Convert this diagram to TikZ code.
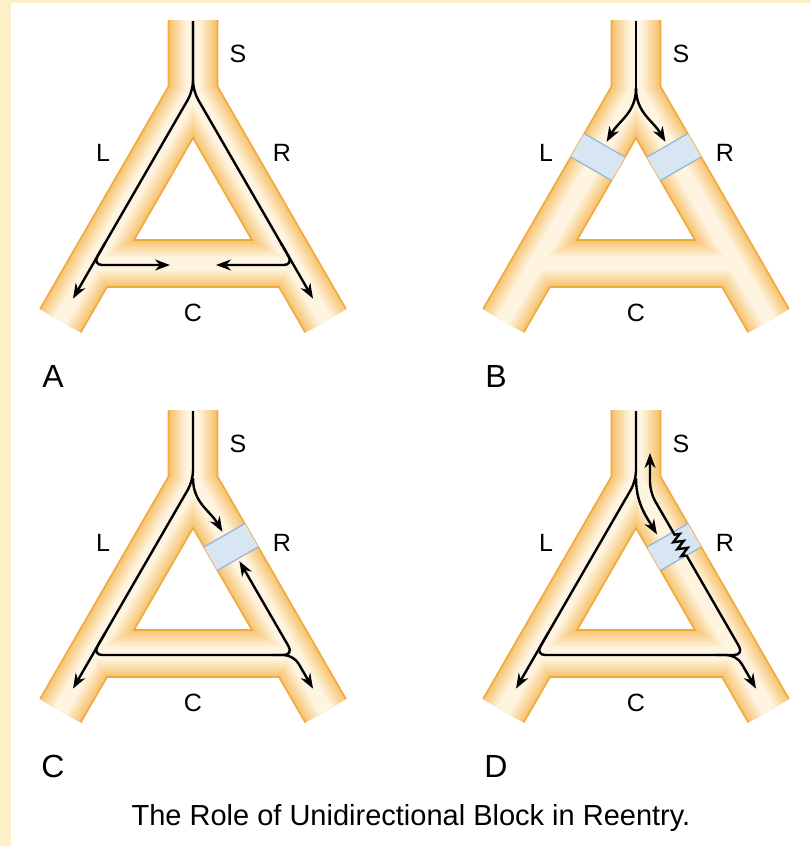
\documentclass[tikz,border=0pt]{standalone}
\usepackage{fontspec}
\setmainfont{Liberation Sans}
\usetikzlibrary{arrows.meta,decorations.pathmorphing}

\definecolor{fundo}{HTML}{FDF0C6}
\definecolor{borda}{HTML}{F0AA3C}
\definecolor{tuboesc}{HTML}{F7C472}
\definecolor{tuboclr}{HTML}{FEF4E0}
\definecolor{bloco}{HTML}{D8E5F2}
\definecolor{blocoborda}{HTML}{8DB6DA}

\tikzset{
  fio/.style={line width=1.2pt, rounded corners=5pt, -{Stealth[length=7.5pt,width=5.5pt]}},
  traco/.style={line width=1.2pt, rounded corners=5pt},
  zigue/.style={line width=1.2pt, decorate, decoration={zigzag, segment length=4pt, amplitude=2.4pt}},
  rotulo/.style={font=\fontsize{12.5}{15}\selectfont},
  letra/.style={font=\fontsize{16}{19}\selectfont},
  linhabloco/.style={blocoborda, line width=0.6pt},
}

% contorno do tubo (apice do furo na origem)
\newcommand{\contorno}{(-24.5,-118) -- (-24.5,-51.6) -- (-153,171) -- (-112.3,194.5) -- (-86,149) -- (86,149) -- (112.3,194.5) -- (153,171) -- (24.5,-51.6) -- (24.5,-118) -- cycle}
\newcommand{\furo}{(0,0) -- (-58.9,102) -- (58.9,102) -- cycle}

\newcommand{\tubo}{%
  \fill[tuboesc] \contorno;
  \begin{scope}
    \clip \contorno;
    \foreach \k in {1,...,12}{
      \pgfmathsetmacro\larg{23.5*(1-\k/13)}
      \pgfmathsetmacro\mist{min(100,\k*11)}
      \draw[tuboclr!\mist!tuboesc, line width=\larg pt, line join=round, line cap=round]
        (0,-130) -- (0,-47.2) -- (-140,195.3)
        (0,-130) -- (0,-47.2) -- (140,195.3)
        (-100.6,125.5) -- (100.6,125.5);
    }
  \end{scope}
  \fill[white] \furo;
  \draw[borda, line width=0.8pt]
    (-24.5,-118) -- (-24.5,-51.6) -- (-153,171)
    (-112.3,194.5) -- (-86,149) -- (86,149) -- (112.3,194.5)
    (153,171) -- (24.5,-51.6) -- (24.5,-118)
    \furo;
}

\newcommand{\blocoesq}{%
  \fill[bloco] (-11,19.05) -- (-24.5,42.43) -- (-65.2,18.93) -- (-51.7,-4.45) -- cycle;
  \draw[linhabloco] (-11,19.05) -- (-51.7,-4.45) (-24.5,42.43) -- (-65.2,18.93);
}
\newcommand{\blocodir}{%
  \fill[bloco] (11,19.05) -- (24.5,42.43) -- (65.2,18.93) -- (51.7,-4.45) -- cycle;
  \draw[linhabloco] (11,19.05) -- (51.7,-4.45) (24.5,42.43) -- (65.2,18.93);
}

\begin{document}
\begin{tikzpicture}[x=0.5pt, y=-0.5pt]
    \useasboundingbox (0,0) rectangle (811,846);
    % Fundo
    \fill[white] (0,0) rectangle (811,846);
    \fill[fundo] (0,0) rectangle (11,846);
    \fill[fundo] (0,0) rectangle (811,3);

    % Tubos e rotulos
    \foreach \px/\py/\rot in {193/138/A, 636/138/B, 193/528/C, 636/528/D}{
      \begin{scope}[shift={(\px,\py)}]
        \tubo
        \node[rotulo] (s\rot) at (45,-84) {S};
        \node[rotulo] (l\rot) at (-90,15) {L};
        \node[rotulo] (r\rot) at (89,15) {R};
        \node[rotulo] (c\rot) at (0,175) {C};
        \node[letra] (p\rot) at (-140,238) {\rot};
      \end{scope}
    }

    % Painel A
    \begin{scope}[shift={(193,138)}]
      \draw[fio] (0,-117) -- (0,-47.2) -- (-120,160.6);
      \draw[fio] (0,-117) -- (0,-47.2) -- (120,160.6);
      \draw[fio] (-87.9,105) -- (-100.6,127) -- (-23,127);
      \draw[fio] (87.9,105) -- (100.6,127) -- (23,127);
    \end{scope}

    % Painel B
    \begin{scope}[shift={(636,138)}]
      \blocoesq
      \blocodir
      \draw[traco] (0,-117) -- (0,-50);
      \draw[fio] (0,-50) .. controls (0,-25) and (-17,-17.7) .. (-29.4,3.8);
      \draw[fio] (0,-50) .. controls (0,-25) and (17,-17.7) .. (29.4,3.8);
    \end{scope}

    % Painel C
    \begin{scope}[shift={(193,528)}]
      \blocodir
      \draw[fio] (0,-117) -- (0,-47.2) -- (-120,160.6);
      \draw[fio] (0,-50) .. controls (0,-25) and (17,-17.7) .. (29.4,3.8);
      \draw[fio] (-87.9,105) -- (-100.6,127) -- (100.6,127) -- (120,160.6);
      \draw[fio] (80,127) -- (100.6,127) -- (46.4,33.2);
    \end{scope}

    % Painel D
    \begin{scope}[shift={(636,528)}]
      \blocodir
      \draw[fio] (0,-117) -- (0,-47.2) -- (-120,160.6);
      \draw[fio] (0,-50) .. controls (0,-25) and (10,-12) .. (21,6.4);
      \draw[fio] (-87.9,105) -- (-100.6,127) -- (100.6,127) -- (120,160.6);
      \draw[traco] (80,127) -- (108,127) -- (50.5,27.4);
      \draw[zigue] (50.5,27.4) -- (37,4.05);
      \draw[fio] (37,4.05) -- (14,-35.8) -- (14,-75);
    \end{scope}

    % Legenda
    \node[font=\fontsize{14.5}{17}\selectfont] (legenda) at (411,818) {The Role of Unidirectional Block in Reentry.};
\end{tikzpicture}
\end{document}
